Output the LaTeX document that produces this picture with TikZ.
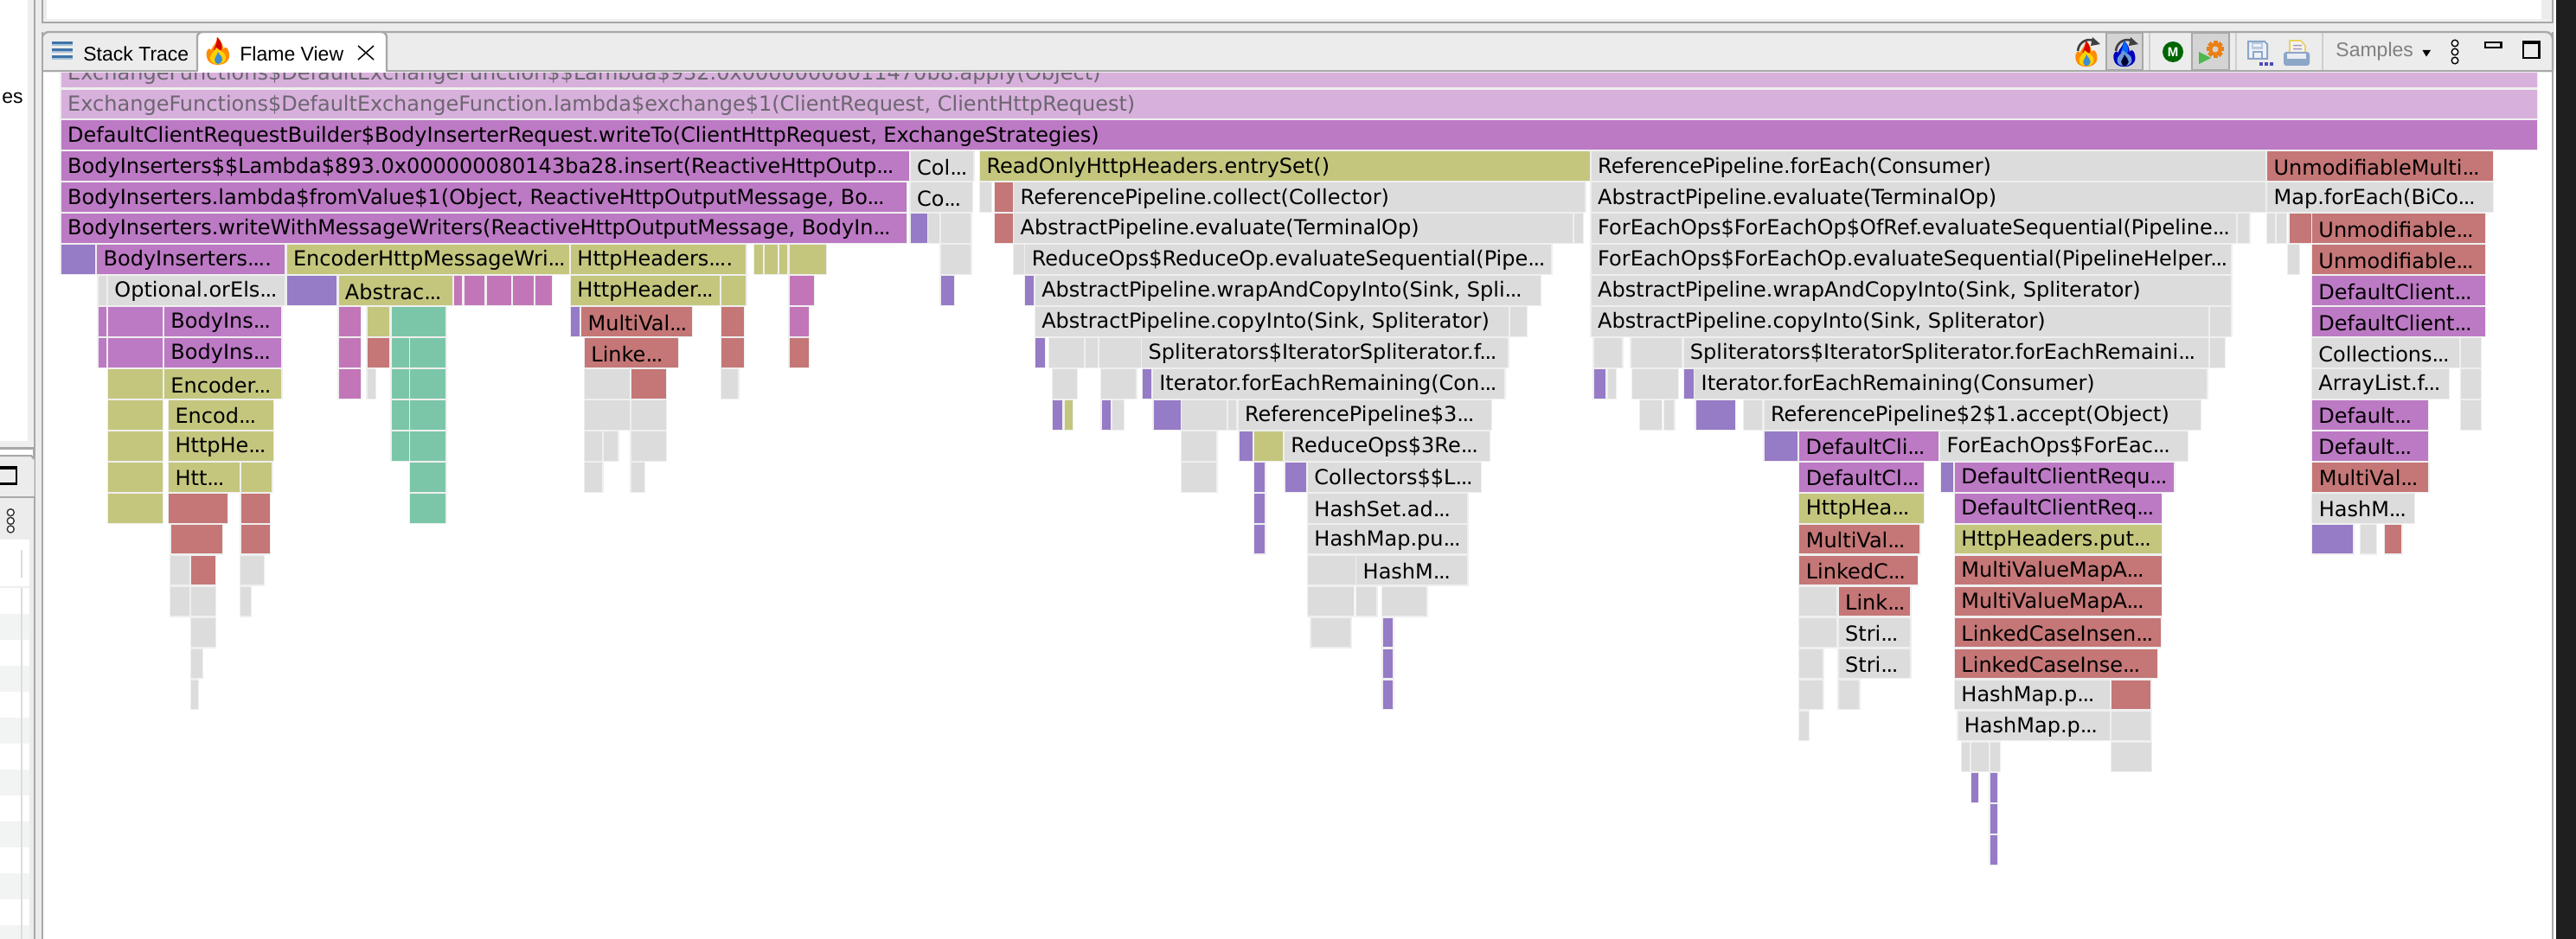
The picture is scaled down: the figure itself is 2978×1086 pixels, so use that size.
\documentclass[tikz,border=0pt]{standalone}
\usepackage{fontspec}
\setmainfont{DejaVu Sans}
\newfontfamily\uifont{Liberation Sans}
\definecolor{mg}{HTML}{BC79C4}
\definecolor{lm}{HTML}{D8B0DC}
\definecolor{pk}{HTML}{C276B8}
\definecolor{vi}{HTML}{967BC6}
\definecolor{ol}{HTML}{C4C67E}
\definecolor{gy}{HTML}{DCDCDC}
\definecolor{sa}{HTML}{C57676}
\definecolor{te}{HTML}{7BC6A8}
\definecolor{edge}{HTML}{EFEFEF}
\definecolor{bar}{HTML}{ECECEC}
\definecolor{ln}{HTML}{A8A8A8}
\definecolor{sep}{HTML}{CFCFCF}
\definecolor{sel}{HTML}{D4D4D4}
\definecolor{stripe}{HTML}{F2F4F4}
\definecolor{steel}{HTML}{3F74A8}
\definecolor{pblue}{HTML}{8CA6C8}
\definecolor{pale}{HTML}{6C6670}
\newcounter{frc}
\def\zo{0}\def\zs{1}
\newcommand{\setz}[2]{\def\zo{#1}\def\zs{#2}}
\newcommand{\framefont}{\fontsize{12}{14}\selectfont}
\newcommand{\el}{.\kern-.7pt.\kern-.7pt.}
% row, z1, z2, colour, text
\newcommand{\fr}[5]{%
 \pgfmathsetmacro{\xa}{\zo+#2/\zs}%
 \pgfmathsetmacro{\xb}{\zo+#3/\zs}%
 \pgfmathsetmacro{\ya}{139.5+35.95*#1}%
 \pgfmathsetmacro{\yb}{\ya+33.6}%
 \fill[edge] (\xa-1.4,\ya-1.2) rectangle (\xb+1.4,\yb+1.2);
 \fill[#4] (\xa,\ya) rectangle (\xb,\yb);
 \stepcounter{frc}%
 \node[lbl] (f\thefrc) at (\xa+7,\ya+18) {#5};
}
\tikzset{lbl/.style={anchor=west,inner sep=0pt,font=\framefont,text=black},
 uitext/.style={anchor=west,inner sep=0pt,font=\uifont\fontsize{11.5}{13}\selectfont}}
% centre x, centre y, scale, outer, tip, middle, core
\newcommand{\flamepic}[7]{%
 \begin{scope}[shift={(#1,#2)},scale=#3]
 \fill[#4] (-13,6) .. controls (-15,-3) and (-9,-6) .. (-8,-2) .. controls (-6,-8) and (-1,-10) .. (-1,-17) .. controls (6,-11) and (6,-5) .. (6,-3) .. controls (8,-7) and (12,-6) .. (13,3) .. controls (14,11) and (7,15) .. (0,15) .. controls (-7,15) and (-12,12) .. (-13,6) -- cycle;
 \fill[#5] (-5,-2) .. controls (-3,-7) and (-1,-10) .. (-1,-17) .. controls (5,-11) and (5,-6) .. (4,-2) -- cycle;
 \fill[#6] (-9,7) .. controls (-9,2) and (-4,0) .. (-2,-5) .. controls (2,-1) and (9,0) .. (9,7) .. controls (9,12) and (4,14) .. (0,14) .. controls (-5,14) and (-9,12) .. (-9,7) -- cycle;
 \fill[#7] (-4,9) .. controls (-4,5) and (-1,5) .. (0,0) .. controls (2,4) and (5,5) .. (5,9) .. controls (5,12) and (2,14) .. (0,14) .. controls (-2,14) and (-4,12) .. (-4,9) -- cycle;
 \end{scope}}
\newcommand{\turnarrow}[1]{%
 \begin{scope}[shift={(#1,60)}]
 \draw[line width=1.3pt,black!75] (-12,-1) .. controls (-11,-12) and (0,-17) .. (8,-12);
 \fill[black!75] (5,-17) -- (14,-9) -- (3,-7) -- cycle;
 \end{scope}}
\begin{document}
\begin{tikzpicture}[x=0.5pt,y=-0.5pt]
\useasboundingbox (0,0) rectangle (2978,1086);
\fill[white] (0,0) rectangle (2978,1086);
% ---------- flame graph ----------
\setz{0}{1}
\fr{-2}{70.8}{2933}{lm}{\textcolor{pale}{ExchangeFunctions\$DefaultExchangeFunction\$\$Lambda\$932.0x00000008011470b8.apply(Object)}}
\fr{-1}{70.8}{2933}{lm}{\textcolor{pale}{ExchangeFunctions\$DefaultExchangeFunction.lambda\$exchange\$1(ClientRequest, ClientHttpRequest)}}
\fr{0}{70.8}{2933}{mg}{DefaultClientRequestBuilder\$BodyInserterRequest.writeTo(ClientHttpRequest, ExchangeStrategies)}
\fr{1}{70.8}{1050.5}{mg}{BodyInserters\$\$Lambda\$893.0x000000080143ba28.insert(ReactiveHttpOutp\el}
\fr{2}{70.8}{1048}{mg}{BodyInserters.lambda\$fromValue\$1(Object, ReactiveHttpOutputMessage, Bo\el}
\fr{3}{70.8}{1048}{mg}{BodyInserters.writeWithMessageWriters(ReactiveHttpOutputMessage, BodyIn\el}
% left block (zoom 1/2)
\setz{0}{1.568}
\fr{4}{111}{172}{vi}{}
\fr{4}{176}{516}{mg}{BodyInserters\el.}
\fr{4}{520}{1032}{ol}{EncoderHttpMessageWri\el}
\fr{4}{1035}{1352}{ol}{HttpHeaders\el.}
\fr{4}{1368}{1383}{ol}{}
\fr{4}{1386}{1410}{ol}{}
\fr{4}{1413}{1427}{ol}{}
\fr{4}{1431}{1497}{ol}{}
\fr{5}{178}{193}{gy}{}
\fr{5}{196}{516}{gy}{Optional.orEls\el}
\fr{5}{520}{610}{vi}{}
\fr{5}{614}{820}{ol}{Abstrac\el}
\fr{5}{823}{838}{pk}{}
\fr{5}{842}{878}{pk}{}
\fr{5}{882}{927}{pk}{}
\fr{5}{930}{967}{pk}{}
\fr{5}{970}{1000}{pk}{}
\fr{5}{1035}{1305}{ol}{HttpHeader\el}
\fr{5}{1308}{1352}{ol}{}
\fr{5}{1431}{1475}{pk}{}
\fr{6}{178}{193}{mg}{}
\fr{6}{196}{294}{mg}{}
\fr{6}{298}{510}{mg}{BodyIns\el}
\fr{6}{614}{654}{pk}{}
\fr{6}{666}{706}{ol}{}
\fr{6}{710}{808}{te}{}
\fr{6}{1035}{1050}{vi}{}
\fr{6}{1054}{1254}{sa}{MultiVal\el}
\fr{6}{1308}{1348}{sa}{}
\fr{6}{1431}{1466}{pk}{}
\fr{7}{178}{193}{mg}{}
\fr{7}{196}{294}{mg}{}
\fr{7}{298}{510}{mg}{BodyIns\el}
\fr{7}{614}{654}{pk}{}
\fr{7}{666}{706}{sa}{}
\fr{7}{710}{741}{te}{}
\fr{7}{744}{808}{te}{}
\fr{7}{1060}{1229}{sa}{Linke\el}
\fr{7}{1308}{1348}{sa}{}
\fr{7}{1431}{1466}{sa}{}
\fr{8}{196}{294}{ol}{}
\fr{8}{298}{510}{ol}{Encoder\el}
\fr{8}{614}{654}{pk}{}
\fr{8}{666}{680}{gy}{}
\fr{8}{710}{741}{te}{}
\fr{8}{744}{808}{te}{}
\fr{8}{1060}{1141}{gy}{}
\fr{8}{1144}{1207}{sa}{}
\fr{8}{1308}{1338}{gy}{}
\fr{9}{196}{294}{ol}{}
\fr{9}{306}{495}{ol}{Encod\el}
\fr{9}{710}{741}{te}{}
\fr{9}{744}{808}{te}{}
\fr{9}{1060}{1141}{gy}{}
\fr{9}{1144}{1207}{gy}{}
\fr{10}{196}{294}{ol}{}
\fr{10}{306}{495}{ol}{HttpHe\el}
\fr{10}{710}{741}{te}{}
\fr{10}{744}{808}{te}{}
\fr{10}{1060}{1092}{gy}{}
\fr{10}{1095}{1120}{gy}{}
\fr{10}{1144}{1207}{gy}{}
\fr{11}{196}{294}{ol}{}
\fr{11}{306}{434}{ol}{Htt\el}
\fr{11}{437}{493}{ol}{}
\fr{11}{744}{808}{te}{}
\fr{11}{1060}{1092}{gy}{}
\fr{11}{1144}{1168}{gy}{}
\fr{12}{196}{294}{ol}{}
\fr{12}{306}{412}{sa}{}
\fr{12}{437}{489}{sa}{}
\fr{12}{744}{808}{te}{}
\fr{13}{310}{403}{sa}{}
\fr{13}{437}{489}{sa}{}
\fr{14}{309}{344}{gy}{}
\fr{14}{347}{390}{sa}{}
\fr{14}{436}{478}{gy}{}
\fr{15}{309}{344}{gy}{}
\fr{15}{347}{390}{gy}{}
\fr{15}{436}{454}{gy}{}
\fr{16}{347}{390}{gy}{}
\fr{17}{347}{367}{gy}{}
\fr{18}{347}{359}{gy}{}
% middle block (zoom 3/4)
\setz{1000}{1.742}
\fr{1}{92}{218}{gy}{Col\el}
\fr{1}{232}{1460}{ol}{ReadOnlyHttpHeaders.entrySet()}
\fr{2}{92}{216}{gy}{Co\el}
\fr{2}{232}{254}{gy}{}
\fr{2}{262}{298}{sa}{}
\fr{2}{300}{1450}{gy}{ReferencePipeline.collect(Collector)}
\fr{3}{92}{125}{vi}{}
\fr{3}{128}{150}{gy}{}
\fr{3}{153}{213}{gy}{}
\fr{3}{262}{298}{sa}{}
\fr{3}{300}{1425}{gy}{AbstractPipeline.evaluate(TerminalOp)}
\fr{3}{1428}{1445}{gy}{}
\fr{4}{153}{213}{gy}{}
\fr{4}{300}{320}{gy}{}
\fr{4}{323}{1382}{gy}{ReduceOps\$ReduceOp.evaluateSequential(Pipe\el}
\fr{5}{153}{179}{vi}{}
\fr{5}{323}{340}{vi}{}
\fr{5}{343}{1360}{gy}{AbstractPipeline.wrapAndCopyInto(Sink, Spli\el}
\fr{6}{343}{1296}{gy}{AbstractPipeline.copyInto(Sink, Spliterator)}
\fr{6}{1300}{1332}{gy}{}
\fr{7}{344}{362}{vi}{}
\fr{7}{371}{441}{gy}{}
\fr{7}{444}{468}{gy}{}
\fr{7}{472}{555}{gy}{}
\fr{7}{558}{1295}{gy}{Spliterators\$IteratorSpliterator.f\el}
\fr{8}{378}{426}{gy}{}
\fr{8}{476}{546}{gy}{}
\fr{8}{559}{577}{vi}{}
\fr{8}{580}{1288}{gy}{Iterator.forEachRemaining(Con\el}
\fr{9}{378}{398}{vi}{}
\fr{9}{402}{418}{ol}{}
\fr{9}{477}{495}{vi}{}
\fr{9}{498}{520}{gy}{}
\fr{9}{581}{635}{vi}{}
\fr{9}{638}{728}{gy}{}
\fr{9}{732}{748}{gy}{}
\fr{9}{752}{1261}{gy}{ReferencePipeline\$3\el}
\fr{10}{638}{708}{gy}{}
\fr{10}{754}{780}{vi}{}
\fr{10}{784}{841}{ol}{}
\fr{10}{845}{1257}{gy}{ReduceOps\$3Re\el}
\fr{11}{638}{708}{gy}{}
\fr{11}{784}{805}{vi}{}
\fr{11}{846}{889}{vi}{}
\fr{11}{892}{1240}{gy}{Collectors\$\$L\el}
\fr{12}{784}{805}{vi}{}
\fr{12}{892}{1213}{gy}{HashSet.ad\el}
\fr{13}{784}{805}{vi}{}
\fr{13}{892}{1213}{gy}{HashMap.pu\el}
\fr{14}{892}{987}{gy}{}
\fr{14}{990}{1213}{gy}{HashM\el}
\fr{15}{892}{984}{gy}{}
\fr{15}{990}{1030}{gy}{}
\fr{15}{1042}{1131}{gy}{}
\fr{16}{898}{978}{gy}{}
\fr{16}{1043}{1063}{vi}{}
\fr{17}{1043}{1063}{vi}{}
\fr{18}{1043}{1063}{vi}{}
% right block (zoom 5)
\setz{1800}{1.331}
\fr{1}{53}{1090}{gy}{ReferencePipeline.forEach(Consumer)}
\fr{1}{1093}{1440}{sa}{UnmodifiableMulti\el}
\fr{2}{53}{1090}{gy}{AbstractPipeline.evaluate(TerminalOp)}
\fr{2}{1093}{1440}{gy}{Map.forEach(BiCo\el}
\fr{3}{53}{1045}{gy}{ForEachOps\$ForEachOp\$OfRef.evaluateSequential(Pipeline\el}
\fr{3}{1048}{1065}{gy}{}
\fr{3}{1093}{1105}{gy}{}
\fr{3}{1108}{1122}{gy}{}
\fr{3}{1127}{1160}{sa}{}
\fr{3}{1162}{1428}{sa}{Unmodifiable\el}
\fr{4}{53}{1037}{gy}{ForEachOps\$ForEachOp.evaluateSequential(PipelineHelper\el}
\fr{4}{1125}{1142}{gy}{}
\fr{4}{1162}{1428}{sa}{Unmodifiable\el}
\fr{5}{53}{1037}{gy}{AbstractPipeline.wrapAndCopyInto(Sink, Spliterator)}
\fr{5}{1162}{1428}{mg}{DefaultClient\el}
\fr{6}{53}{1002}{gy}{AbstractPipeline.copyInto(Sink, Spliterator)}
\fr{6}{1005}{1037}{gy}{}
\fr{6}{1162}{1428}{mg}{DefaultClient\el}
\fr{7}{57}{100}{gy}{}
\fr{7}{114}{192}{gy}{}
\fr{7}{195}{1002}{gy}{Spliterators\$IteratorSpliterator.forEachRemaini\el}
\fr{7}{1005}{1027}{gy}{}
\fr{7}{1162}{1388}{gy}{Collections\el}
\fr{7}{1391}{1421}{gy}{}
\fr{8}{57}{75}{vi}{}
\fr{8}{78}{90}{gy}{}
\fr{8}{116}{186}{gy}{}
\fr{8}{196}{210}{vi}{}
\fr{8}{212}{1000}{gy}{Iterator.forEachRemaining(Consumer)}
\fr{8}{1162}{1372}{gy}{ArrayList.f\el}
\fr{8}{1391}{1421}{gy}{}
\fr{9}{128}{161}{gy}{}
\fr{9}{165}{180}{gy}{}
\fr{9}{214}{274}{vi}{}
\fr{9}{288}{316}{gy}{}
\fr{9}{319}{990}{gy}{ReferencePipeline\$2\$1.accept(Object)}
\fr{9}{1162}{1340}{mg}{Default\el}
\fr{9}{1391}{1421}{gy}{}
\fr{10}{319}{370}{vi}{}
\fr{10}{373}{587}{mg}{DefaultCli\el}
\fr{10}{590}{970}{gy}{ForEachOps\$ForEac\el}
\fr{10}{1162}{1340}{mg}{Default\el}
% lower right block (zoom 6)
\setz{2000}{1.742}
\fr{11}{140}{390}{mg}{DefaultCl\el}
\fr{11}{425}{450}{vi}{}
\fr{11}{453}{894}{mg}{DefaultClientRequ\el}
\fr{11}{1173}{1406}{sa}{MultiVal\el}
\fr{12}{140}{390}{ol}{HttpHea\el}
\fr{12}{453}{869}{mg}{DefaultClientReq\el}
\fr{12}{1173}{1378}{gy}{HashM\el}
\fr{13}{140}{382}{sa}{MultiVal\el}
\fr{13}{453}{869}{ol}{HttpHeaders.put\el}
\fr{13}{1173}{1255}{vi}{}
\fr{13}{1270}{1301}{gy}{}
\fr{13}{1319}{1352}{sa}{}
\fr{14}{140}{378}{sa}{LinkedC\el}
\fr{14}{453}{869}{sa}{MultiValueMapA\el}
\fr{15}{140}{215}{gy}{}
\fr{15}{219}{363}{sa}{Link\el}
\fr{15}{453}{869}{sa}{MultiValueMapA\el}
\fr{16}{140}{215}{gy}{}
\fr{16}{219}{363}{gy}{Stri\el}
\fr{16}{453}{867}{sa}{LinkedCaseInsen\el}
\fr{17}{140}{187}{gy}{}
\fr{17}{219}{363}{gy}{Stri\el}
\fr{17}{453}{860}{sa}{LinkedCaseInse\el}
\fr{18}{140}{187}{gy}{}
\fr{18}{219}{260}{gy}{}
\fr{18}{453}{765}{gy}{HashMap.p\el}
\fr{18}{769}{847}{sa}{}
\fr{19}{140}{158}{gy}{}
\fr{19}{459}{765}{gy}{HashMap.p\el}
\fr{19}{769}{847}{gy}{}
\fr{20}{467}{482}{gy}{}
\fr{20}{486}{520}{gy}{}
\fr{20}{524}{543}{gy}{}
\fr{20}{769}{848}{gy}{}
\fr{21}{486}{500}{vi}{}
\fr{21}{524}{538}{vi}{}
\fr{22}{524}{538}{vi}{}
\fr{23}{524}{538}{vi}{}
% ---------- window chrome ----------
\fill[bar] (40,0) rectangle (2953,82);
\fill[white] (54,0) rectangle (2938,22);
\fill[edge] (48,22) rectangle (2950,25);
\draw[ln,line width=1.2pt] (48.5,0) -- (48.5,26) -- (2951,26) -- (2951,0);
\fill[bar] (48.5,27) rectangle (2951,37);
\draw[ln,line width=1.2pt,fill=bar,rounded corners=4pt] (48.5,84) -- (48.5,37) -- (2951,37) -- (2951,84);
\draw[ln,line width=1.2pt] (48.5,82) -- (2951,82);
% active tab
\fill[white] (228,84) -- (228,42) [rounded corners=3pt] -- (228,37) -- (447,37) [sharp corners] -- (447,84) -- cycle;
\draw[ln,line width=1.2pt,rounded corners=3pt] (228,83) -- (228,37) -- (447,37) -- (447,83);
% stack trace icon and labels
\foreach \y in {48,56,64}{\fill[steel] (60,\y) rectangle (84,\y+3.2); \fill[steel!45] (60,\y+3.2) rectangle (84,\y+4.8);}
\node[uitext] (stacktab) at (96,62) {Stack Trace};
\flamepic{252}{60}{1}{orange!90!yellow}{red!85!black}{yellow!70!orange}{cyan!60!blue!80}
\node[uitext] (flametab) at (277,62) {Flame View};
\draw[line width=.75pt] (414,53) -- (432,69) (414,69) -- (432,53);
% toolbar
\fill[sel] (2435,38) rectangle (2477,81);
\draw[ln,line width=1.2pt] (2435,38) rectangle (2477,81);
\fill[sel] (2534,38) rectangle (2577,81);
\draw[ln,line width=1.2pt] (2534,38) rectangle (2577,81);
\foreach \x in {2485,2585,2685}{\draw[sep,line width=.8pt] (\x,38) -- (\x,81);}
\flamepic{2412}{63}{0.95}{orange!90!yellow}{red!85!black}{yellow!70!orange}{cyan!60!blue!80}
\turnarrow{2414}
\flamepic{2456}{63}{0.95}{blue!75!black}{blue!60!cyan}{cyan!50!blue!60}{black!80!blue}
\turnarrow{2458}
\fill[green!40!black] (2512,60) circle[radius=12];
\node[inner sep=0,text=white,font=\uifont\fontsize{7.5}{8}\selectfont\bfseries] (mbtn) at (2512,60) {M};
\fill[green!60!black!70] (2542,60) -- (2556,67) -- (2542,74) -- cycle;
\foreach \a in {0,45,...,315}{\fill[orange!60!brown,rotate around={\a:(2561,57)}] (2558.5,47) rectangle (2563.5,52);}
\fill[orange!70!brown] (2561,57) circle[radius=7.5];
\fill[sel] (2561,57) circle[radius=3.5];
\draw[pblue,line width=1pt,fill=white!85!pblue] (2599,48) -- (2618,48) -- (2621,51) -- (2621,68) -- (2599,68) -- cycle;
\fill[pblue!60] (2603,49) rectangle (2616,57);
\fill[white!85!pblue] (2605,51) rectangle (2614,54);
\draw[pblue,line width=1pt] (2605,68) -- (2605,60) -- (2615,60) -- (2615,68);
\foreach \x in {2612,2618,2624}{\fill[blue!60!black!70] (\x,72) rectangle (\x+4,76);}
\draw[brown!50!yellow!70!white,line width=.8pt,fill=white!90!brown] (2647,47) -- (2660,47) -- (2665,53) -- (2665,62) -- (2647,62) -- cycle;
\fill[blue!40!black!40] (2651,52) rectangle (2661,53.5) (2651,56) rectangle (2661,57.5);
\fill[pblue,rounded corners=1.5pt] (2640,60) rectangle (2670,76);
\fill[white!80!pblue] (2644,62) rectangle (2666,68);
\node[uitext,text=black!50] (samples) at (2700,60) {Samples};
\fill[black] (2800.5,58) -- (2810,58) -- (2805,65.5) -- cycle;
\foreach \y in {50,60,70}{\draw[black,line width=.7pt,fill=white] (2838,\y) circle[radius=3.8];}
\draw[black,line width=1.2pt] (2873,49) rectangle (2891.5,55);
\draw[black,line width=1.2pt] (2917,48) rectangle (2935.5,67);
\fill[black] (2917,48) rectangle (2935.5,51.5);
% main panel side lines
\fill[white] (50,84) rectangle (67,1086);
\draw[ln,line width=1.2pt] (48.5,37) -- (48.5,1086);
\draw[ln,line width=1.2pt] (2951,37) -- (2951,1086);
\fill[white] (2937,84) rectangle (2950,1086);
% right dark border
\fill[black!88] (2955,0) rectangle (2978,1086);
% left strip
\fill[bar] (39,0) rectangle (48,1086);
\draw[ln,line width=1.2pt] (39.5,0) -- (39.5,1086);
\fill[edge] (32,0) rectangle (39,518);
\node[anchor=east,inner sep=0,font=\uifont\fontsize{11.5}{13}\selectfont] (lefttext) at (27,113) {es};
\fill[edge] (0,510) rectangle (39,518);
\draw[ln,line width=1.2pt] (0,518.5) -- (39.5,518.5);
\fill[bar] (0,527) -- (36,527) -- (39.5,531) -- (39.5,575) -- (0,575) -- cycle;
\draw[ln,line width=1pt] (0,527) -- (36,527) -- (39.5,531);
\draw[ln,line width=1.2pt] (0,575) -- (39.5,575);
\draw[black,line width=1.1pt] (0,540.5) -- (19,540.5) -- (19,559.5) -- (0,559.5);
\fill[black] (0,540) rectangle (19,543);
\fill[bar] (0,576) rectangle (39,624);
\foreach \y in {592.7,602.4,612}{\draw[black!80,line width=.7pt,fill=white] (12.3,\y) circle[radius=4];}
\fill[bar] (34,624) rectangle (39,1086);
\foreach \y in {710,770,830,890,950,1010,1070}{\fill[stripe] (0,\y) rectangle (34,\y+29.6);}
\draw[sep!70,line width=.6pt] (25,636) -- (25,668) (25,679) -- (25,1086);
\draw[edge,line width=1.2pt] (0,679) -- (34,679);
\end{tikzpicture}
\end{document}
